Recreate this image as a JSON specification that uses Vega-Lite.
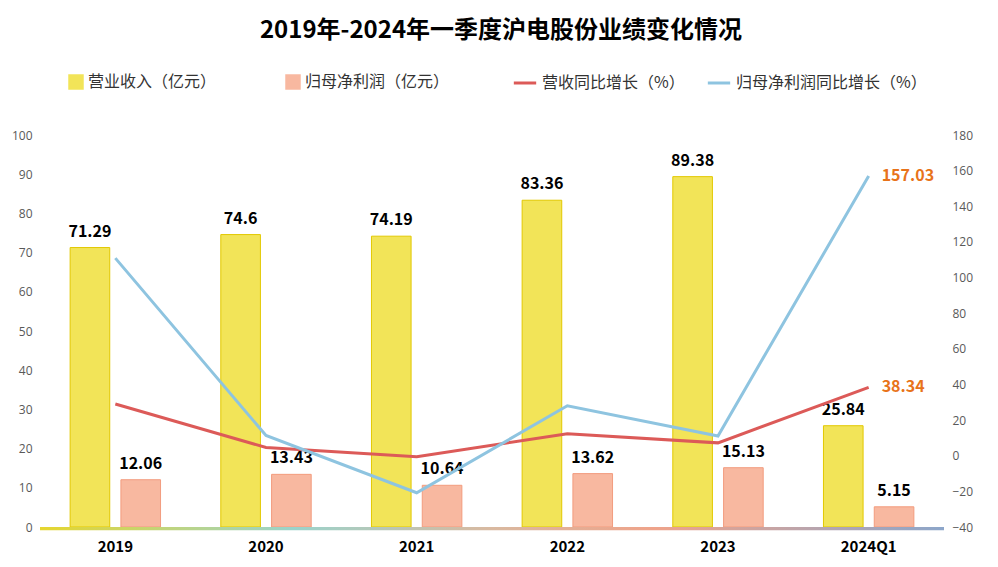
{
  "$schema": "https://vega.github.io/schema/vega-lite/v6.json",
  "autosize": {"type": "none"},
  "width": 904,
  "height": 392,
  "padding": {"left": 40, "top": 135, "right": 54, "bottom": 40},
  "background": "white",
  "title": {
    "text": "2019年-2024年一季度沪电股份业绩变化情况",
    "font": "Noto Sans CJK SC",
    "fontSize": 24,
    "fontWeight": "bold",
    "color": "#000000",
    "anchor": "middle",
    "frame": "group",
    "dx": 9,
    "offset": 27
  },
  "config": {
    "view": {"stroke": null},
    "axis": {"labelFont": "Open Sans", "labelColor": "#595959", "labelFontSize": 12, "grid": false, "ticks": false, "domain": false, "title": null, "labelOverlap": false},
    "legend": {"labelFont": "Noto Sans CJK SC", "labelFontSize": 16, "labelColor": "#333333", "title": null, "labelLimit": 0}
  },
  "datasets": {
    "bars": [
      {"year": "2019", "series": "营业收入（亿元）", "value": 71.29},
      {"year": "2019", "series": "归母净利润（亿元）", "value": 12.06},
      {"year": "2020", "series": "营业收入（亿元）", "value": 74.6},
      {"year": "2020", "series": "归母净利润（亿元）", "value": 13.43},
      {"year": "2021", "series": "营业收入（亿元）", "value": 74.19},
      {"year": "2021", "series": "归母净利润（亿元）", "value": 10.64},
      {"year": "2022", "series": "营业收入（亿元）", "value": 83.36},
      {"year": "2022", "series": "归母净利润（亿元）", "value": 13.62},
      {"year": "2023", "series": "营业收入（亿元）", "value": 89.38},
      {"year": "2023", "series": "归母净利润（亿元）", "value": 15.13},
      {"year": "2024Q1", "series": "营业收入（亿元）", "value": 25.84},
      {"year": "2024Q1", "series": "归母净利润（亿元）", "value": 5.15}
    ],
    "lines": [
      {"year": "2019", "series": "营收同比增长（%）", "value": 29.0},
      {"year": "2020", "series": "营收同比增长（%）", "value": 4.64},
      {"year": "2021", "series": "营收同比增长（%）", "value": -0.55},
      {"year": "2022", "series": "营收同比增长（%）", "value": 12.36},
      {"year": "2023", "series": "营收同比增长（%）", "value": 7.22},
      {"year": "2024Q1", "series": "营收同比增长（%）", "value": 38.34},
      {"year": "2019", "series": "归母净利润同比增长（%）", "value": 110.9},
      {"year": "2020", "series": "归母净利润同比增长（%）", "value": 11.36},
      {"year": "2021", "series": "归母净利润同比增长（%）", "value": -20.77},
      {"year": "2022", "series": "归母净利润同比增长（%）", "value": 28.01},
      {"year": "2023", "series": "归母净利润同比增长（%）", "value": 11.09},
      {"year": "2024Q1", "series": "归母净利润同比增长（%）", "value": 157.03}
    ],
    "base": [{"b": 0}]
  },
  "layer": [
    {
      "layer": [
        {
          "data": {"name": "bars"},
          "mark": {"type": "bar", "strokeWidth": 1},
          "encoding": {
            "x": {
              "field": "year", "type": "nominal",
              "sort": ["2019", "2020", "2021", "2022", "2023", "2024Q1"],
              "scale": {"paddingInner": 0.4, "paddingOuter": 0.2},
              "axis": {"labelAngle": 0, "labelFont": "Noto Sans CJK SC", "labelFontSize": 15, "labelFontWeight": "bold", "labelColor": "#000000", "labelPadding": 12}
            },
            "xOffset": {
              "field": "series", "type": "nominal",
              "sort": ["营业收入（亿元）", "归母净利润（亿元）"],
              "scale": {"paddingInner": 0.22, "paddingOuter": 0}
            },
            "y": {
              "field": "value", "type": "quantitative",
              "scale": {"domain": [0, 100], "nice": false},
              "axis": {"orient": "left", "values": [0, 10, 20, 30, 40, 50, 60, 70, 80, 90, 100], "labelPadding": 8, "labelOverlap": false, "tickCount": 11}
            },
            "color": {
              "field": "series", "type": "nominal",
              "scale": {"domain": ["营业收入（亿元）", "归母净利润（亿元）"], "range": ["#F2E458", "#F8B8A0"]},
              "legend": {"orient": "none", "legendX": 28, "legendY": -61, "direction": "horizontal", "symbolType": "square", "symbolSize": 240, "columnPadding": 68, "symbolStrokeWidth": 0}
            },
            "stroke": {
              "field": "series", "type": "nominal",
              "scale": {"domain": ["营业收入（亿元）", "归母净利润（亿元）"], "range": ["#E2C800", "#F29C7E"]},
              "legend": null
            }
          }
        },
        {
          "data": {"name": "bars"},
          "mark": {"type": "text", "baseline": "bottom", "dy": -8, "font": "Noto Sans CJK SC", "fontSize": 16, "fontWeight": "bold", "color": "#000000"},
          "encoding": {
            "x": {"field": "year", "type": "nominal", "sort": ["2019", "2020", "2021", "2022", "2023", "2024Q1"]},
            "xOffset": {"field": "series", "type": "nominal", "sort": ["营业收入（亿元）", "归母净利润（亿元）"]},
            "y": {"field": "value", "type": "quantitative"},
            "text": {"field": "value", "type": "quantitative"}
          }
        },
        {
          "data": {"name": "base"},
          "mark": {
            "type": "rect",
            "color": {
              "x1": 0, "y1": 0, "x2": 1, "y2": 0, "gradient": "linear",
              "stops": [
                {"offset": 0, "color": "#E6D62E"},
                {"offset": 0.28, "color": "#9AD3CB"},
                {"offset": 0.5, "color": "#D9B9A0"},
                {"offset": 0.68, "color": "#EFA38A"},
                {"offset": 1, "color": "#8CA6CA"}
              ]
            }
          },
          "encoding": {
            "y": {"datum": 0, "type": "quantitative"},
            "y2": {"datum": -0.8}
          }
        }
      ]
    },
    {
      "layer": [
        {
          "data": {"name": "lines"},
          "mark": {"type": "line", "strokeWidth": 3},
          "encoding": {
            "x": {"field": "year", "type": "nominal", "sort": ["2019", "2020", "2021", "2022", "2023", "2024Q1"]},
            "y": {
              "field": "value", "type": "quantitative",
              "scale": {"domain": [-40, 180], "nice": false},
              "axis": {"orient": "right", "values": [-40, -20, 0, 20, 40, 60, 80, 100, 120, 140, 160, 180], "labelPadding": 8, "labelOverlap": false, "tickCount": 12}
            },
            "color": {
              "field": "series", "type": "nominal",
              "scale": {"domain": ["营收同比增长（%）", "归母净利润同比增长（%）"], "range": ["#DC5A58", "#8EC4E0"]},
              "legend": {"orient": "none", "legendX": 472, "legendY": -65, "direction": "horizontal", "symbolType": "stroke", "symbolSize": 500, "symbolStrokeWidth": 3, "columnPadding": 16}
            }
          }
        },
        {
          "data": {"name": "lines"},
          "transform": [{"filter": "datum.year == '2024Q1'"}],
          "mark": {"type": "text", "align": "left", "baseline": "middle", "dx": 13, "font": "Noto Sans CJK SC", "fontSize": 16, "fontWeight": "bold", "color": "#E8731A"},
          "encoding": {
            "x": {"field": "year", "type": "nominal", "sort": ["2019", "2020", "2021", "2022", "2023", "2024Q1"]},
            "y": {"field": "value", "type": "quantitative"},
            "text": {"field": "value", "type": "quantitative"}
          }
        }
      ]
    }
  ],
  "resolve": {"scale": {"y": "independent", "color": "independent", "stroke": "independent"}, "legend": {"color": "independent"}}
}
